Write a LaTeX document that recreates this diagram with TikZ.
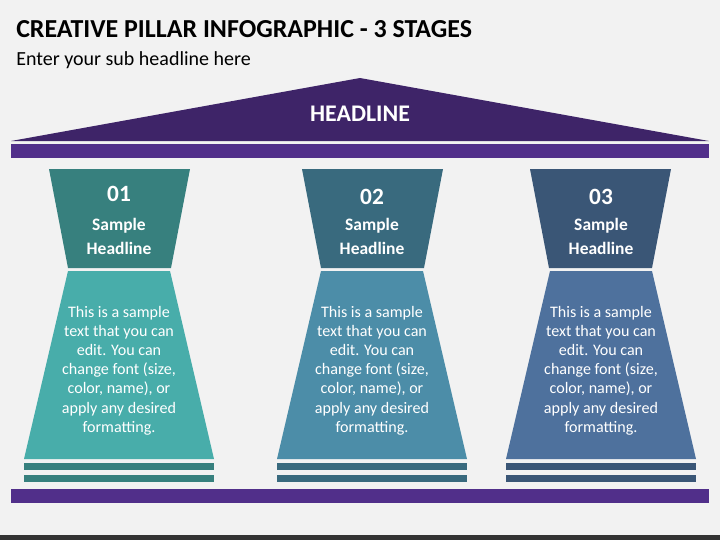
\documentclass[tikz,border=0pt]{standalone}
\usepackage{fontspec}
\setmainfont{Carlito}
\definecolor{bgc}{HTML}{F2F2F2}
\definecolor{purpA}{HTML}{512F8A}
\definecolor{purpB}{HTML}{3E2468}
\definecolor{darkA}{HTML}{37807E}
\definecolor{liteA}{HTML}{48ADAA}
\definecolor{darkB}{HTML}{396A7E}
\definecolor{liteB}{HTML}{4C8DA8}
\definecolor{darkC}{HTML}{3A5676}
\definecolor{liteC}{HTML}{4E719D}
\definecolor{strip}{HTML}{333333}
\tikzset{
  wt/.style={text=white,font=\bfseries,align=center,inner sep=0pt,anchor=center},
  numtxt/.style={wt,font=\bfseries\fontsize{17.5}{20}\selectfont},
  headtxt/.style={wt,font=\bfseries\fontsize{13.1}{18}\selectfont},
  bodytxt/.style={text=white,align=center,inner sep=0pt,anchor=center,font=\fontsize{12.05}{14.4}\selectfont},
}
\newcommand{\pillar}[8]{% x-left, name, dark, lite, top shift, number y, number, headline y
  \begin{scope}[xshift=#1*0.75pt]
    \fill[#3] ({25+#5},169) -- ({166+#5},169) -- ({147+#5},268) -- ({44+#5},268) -- cycle;
    \fill[#4] (44,271) -- (146,271) -- (190,459) -- (0,459) -- cycle;
    \fill[#3] (0,463) rectangle (190,470);
    \fill[#3] (0,475) rectangle (190,482);
    \node[numtxt] (num#2) at (95,#6) {#7};
    \node[headtxt] (head#2) at (95,#8) {Sample\\Headline};
    \node[bodytxt] (body#2) at (95,370.5) {This is a sample\\text that you can\\edit. You can\\change font (size,\\color, name), or\\apply any desired\\formatting.};
  \end{scope}
}
\begin{document}
\begin{tikzpicture}[x=0.75pt,y=-0.75pt]
\useasboundingbox (0,0) rectangle (720,540);
\fill[bgc] (0,0) rectangle (720,540);
\fill[strip] (0,535) rectangle (720,540);
\node[anchor=west,inner sep=0pt,font=\bfseries\fontsize{19.45}{22}\selectfont,text=black] (title) at (16,29) {CREATIVE PILLAR INFOGRAPHIC - 3 STAGES};
\node[anchor=west,inner sep=0pt,font=\fontsize{15}{18}\selectfont,text=black] (sub) at (16,60) {Enter your sub headline here};
\fill[purpB] (11,141) -- (360,78) -- (709,141) -- cycle;
\fill[purpA] (11,144) rectangle (709,158);
\fill[purpA] (11,489) rectangle (709,503);
\node[wt,font=\bfseries\fontsize{17.9}{20}\selectfont] (head) at (360,114) {HEADLINE};
\pillar{24}{a}{darkA}{liteA}{0}{194}{01}{236}
\pillar{277}{b}{darkB}{liteB}{0}{197}{02}{236}
\pillar{506}{c}{darkC}{liteC}{-1}{197}{03}{236}
\end{tikzpicture}
\end{document}
